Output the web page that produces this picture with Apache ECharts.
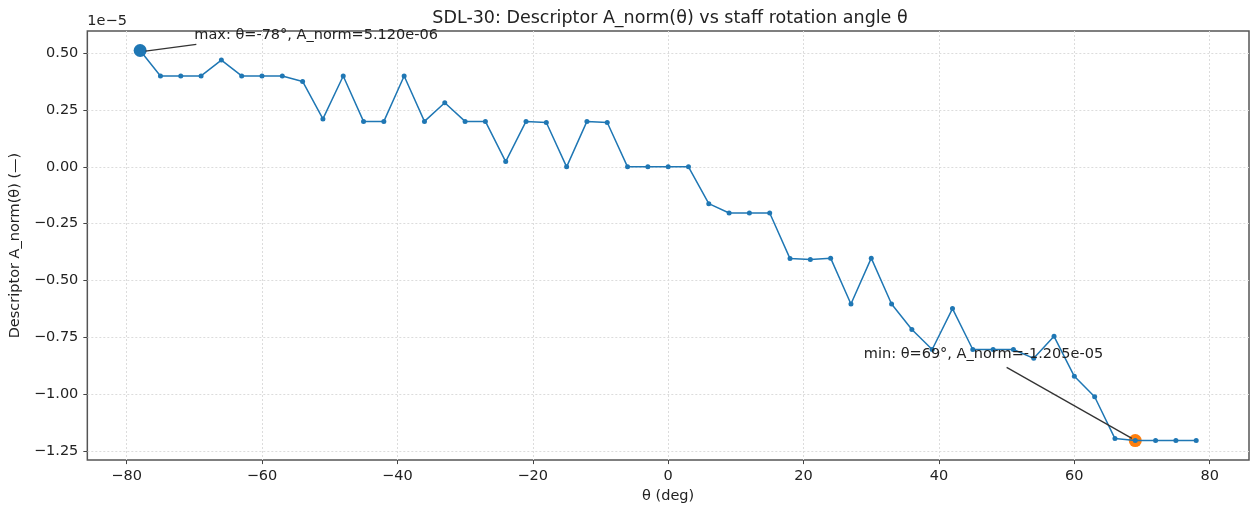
<!DOCTYPE html>
<html>
<head>
<meta charset="utf-8">
<title>SDL-30 descriptor</title>
<script src="https://cdn.jsdelivr.net/npm/echarts@6/dist/echarts.min.js"></script>
<style>
  html, body { margin: 0; padding: 0; background: #fff; }
  #chart { width: 1250px; height: 509px; }
</style>
</head>
<body>
<div id="chart"></div>
<script>
// rotation angle (deg)
var theta = [-78, -75, -72, -69, -66, -63, -60, -57, -54, -51, -48, -45, -42, -39, -36, -33, -30, -27,
  -24, -21, -18, -15, -12, -9, -6, -3, 0, 3, 6, 9, 12, 15, 18, 21, 24, 27, 30, 33, 36, 39, 42, 45,
  48, 51, 54, 57, 60, 63, 66, 69, 72, 75, 78];
// A_norm, in units of 1e-5
var aNorm = [0.512, 0.40, 0.40, 0.40, 0.47, 0.40, 0.40, 0.40, 0.376, 0.211, 0.40, 0.20, 0.20, 0.40,
  0.20, 0.282, 0.20, 0.20, 0.023, 0.20, 0.195, 0.0, 0.20, 0.195, 0.0, 0.0, 0.0, 0.0, -0.162, -0.203,
  -0.203, -0.203, -0.404, -0.408, -0.402, -0.604, -0.402, -0.604, -0.716, -0.804, -0.624, -0.804,
  -0.804, -0.804, -0.843, -0.746, -0.922, -1.012, -1.196, -1.205, -1.205, -1.205, -1.205];
var xTicks = [-80, -60, -40, -20, 0, 20, 40, 60, 80];
var yTicks = [-1.25, -1.0, -0.75, -0.5, -0.25, 0, 0.25, 0.5];

var points = theta.map(function (t, i) { return [t, aNorm[i]]; });
var iMax = 0, iMin = 0;
aNorm.forEach(function (v, i) {
  if (v > aNorm[iMax]) iMax = i;
  if (v < aNorm[iMin]) iMin = i;
});
var maxPt = points[iMax], minPt = points[iMin];

// matplotlib-like 5% margins
var xPad = (theta[theta.length - 1] - theta[0]) * 0.05;
var yPad = (aNorm[iMax] - aNorm[iMin]) * 0.05;

function fmtY(v) {
  var s = v.toFixed(2);
  return s.charAt(0) === '-' ? '\u2212' + s.slice(1) : s;
}
function fmtX(v) {
  return v < 0 ? '\u2212' + (-v) : String(v);
}

var font = 'DejaVu Sans';
var fs = 14.5;
var gridLine = { show: true, lineStyle: { color: '#dcdcdc', width: 1, type: [2, 2] } };

var chart = echarts.init(document.getElementById('chart'));
var option = {
  animation: false,
  textStyle: { fontFamily: font },
  title: {
    text: 'SDL-30: Descriptor A_norm(\u03b8) vs staff rotation angle \u03b8',
    left: 665, top: 4, textAlign: 'center',
    textStyle: { fontFamily: font, fontSize: 17.5, fontWeight: 'normal', color: '#222' }
  },
  grid: {
    left: 87, right: 1, top: 31, bottom: 48,
    show: true, borderColor: '#555', borderWidth: 1.5, backgroundColor: 'transparent'
  },
  xAxis: {
    type: 'value',
    min: theta[0] - xPad, max: theta[theta.length - 1] + xPad,
    name: '\u03b8 (deg)', nameLocation: 'middle', nameGap: 24,
    nameTextStyle: { fontFamily: font, fontSize: fs, color: '#222' },
    axisLine: { show: false, onZero: false },
    axisTick: { show: true, customValues: xTicks, length: 4, inside: false, lineStyle: { color: '#444' } },
    axisLabel: { customValues: xTicks, formatter: fmtX, margin: 9, fontFamily: font, fontSize: fs, color: '#222' },
    splitLine: gridLine
  },
  yAxis: {
    type: 'value',
    min: aNorm[iMin] - yPad, max: aNorm[iMax] + yPad,
    name: 'Descriptor A_norm(\u03b8) (\u2014)', nameLocation: 'middle', nameGap: 59, nameRotate: 90,
    nameTextStyle: { fontFamily: font, fontSize: fs, color: '#222' },
    axisLine: { show: false, onZero: false },
    axisTick: { show: true, customValues: yTicks, length: 4, inside: false, lineStyle: { color: '#444' } },
    axisLabel: { customValues: yTicks, formatter: fmtY, margin: 9, fontFamily: font, fontSize: fs, color: '#222' },
    splitLine: gridLine
  },
  series: [
    {
      type: 'scatter', z: 1,
      data: [maxPt], symbolSize: 13,
      itemStyle: { color: '#1f77b4', opacity: 1 }
    },
    {
      type: 'scatter', z: 1,
      data: [minPt], symbolSize: 13,
      itemStyle: { color: '#ff7f0e', opacity: 1 }
    },
    {
      type: 'line', z: 3,
      data: points,
      symbol: 'circle', symbolSize: 5, showSymbol: true,
      lineStyle: { color: '#1f77b4', width: 1.5 },
      itemStyle: { color: '#1f77b4' },
      markLine: {
        silent: true, animation: false,
        symbol: ['none', 'arrow'], symbolSize: [0, 9],
        lineStyle: { color: '#333', width: 1.3, type: 'solid' },
        label: { show: false },
        data: [
          [{ coord: [maxPt[0] + 8.3, maxPt[1] + 0.027] }, { coord: [maxPt[0] + 0.8, maxPt[1] - 0.003] }],
          [{ coord: [minPt[0] - 19, minPt[1] + 0.322] }, { coord: [minPt[0] - 0.5, minPt[1] + 0.01] }]
        ]
      }
    }
  ]
};
chart.setOption(option);

// annotation texts placed at data coordinates
var maxAt = chart.convertToPixel({ gridIndex: 0 }, [maxPt[0] + 8, maxPt[1] + 0.036]);
var minAt = chart.convertToPixel({ gridIndex: 0 }, [minPt[0] - 40.1, minPt[1] + 0.345]);
var sciAt = chart.convertToPixel({ gridIndex: 0 }, [theta[0] - xPad, aNorm[iMax] + yPad]);
chart.setOption({
  graphic: [
    {
      type: 'text', x: maxAt[0], y: maxAt[1], z: 10,
      style: {
        text: 'max: \u03b8=' + maxPt[0] + '\u00b0, A_norm=' + (maxPt[1] * 1e-5).toExponential(3).replace('e-6', 'e-06'),
        font: fs + 'px "DejaVu Sans"', fill: '#222', textVerticalAlign: 'bottom', textAlign: 'left'
      }
    },
    {
      type: 'text', x: minAt[0], y: minAt[1], z: 10,
      style: {
        text: 'min: \u03b8=' + minPt[0] + '\u00b0, A_norm=' + (minPt[1] * 1e-5).toExponential(3).replace('e-5', 'e-05'),
        font: fs + 'px "DejaVu Sans"', fill: '#222', textVerticalAlign: 'bottom', textAlign: 'left'
      }
    },
    {
      type: 'text', x: sciAt[0], y: sciAt[1] - 2, z: 10,
      style: {
        text: '1e\u22125', font: fs + 'px "DejaVu Sans"', fill: '#222',
        textVerticalAlign: 'bottom', textAlign: 'left'
      }
    }
  ]
});
</script>
</body>
</html>
